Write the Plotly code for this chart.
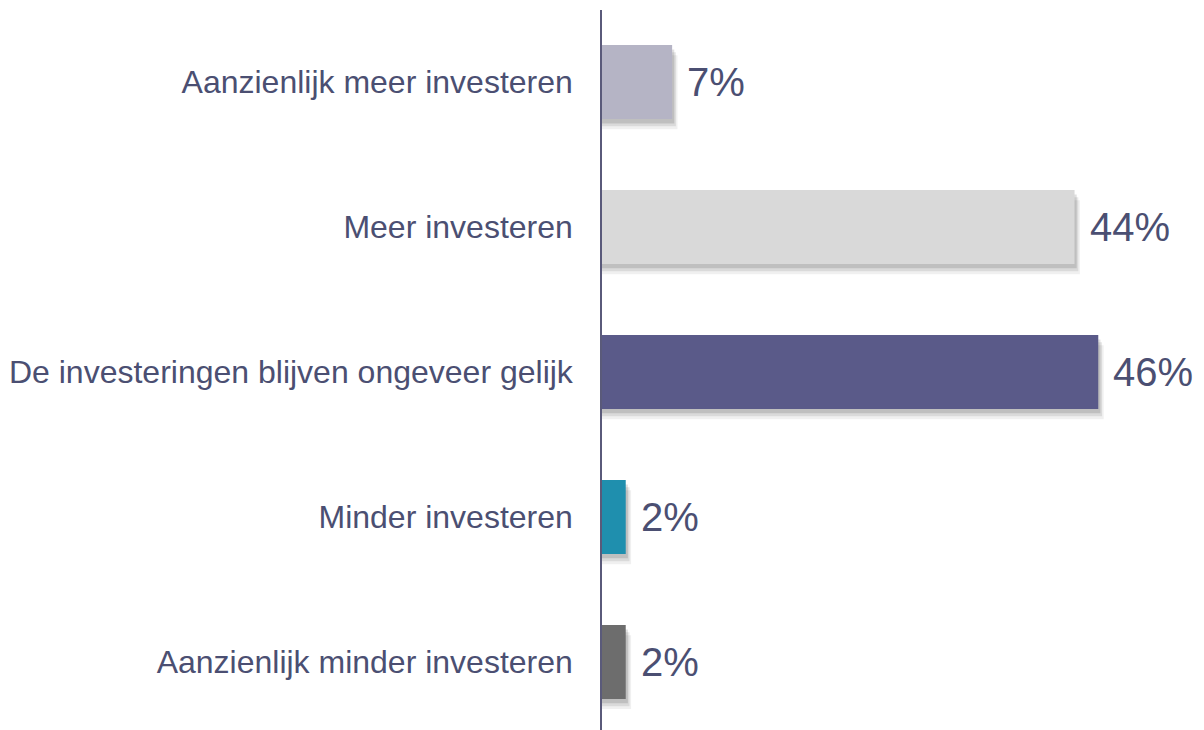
import plotly.graph_objects as go

categories = [
    "Aanzienlijk meer investeren",
    "Meer investeren",
    "De investeringen blijven ongeveer gelijk",
    "Minder investeren",
    "Aanzienlijk minder investeren",
]
values = [6.5, 43.8, 46.0, 2.2, 2.2]
value_labels = ["7%", "44%", "46%", "2%", "2%"]
bar_colors = ["#B5B4C5", "#D9D9D9", "#5A5A89", "#1F8FAE", "#6D6D6D"]

text_color = "#4B4F72"
positions = list(range(len(categories)))

fig = go.Figure()

# soft drop shadow layers
for dx, dy, op in [(0.2, 0.03, 0.12), (0.35, 0.05, 0.09), (0.5, 0.07, 0.06)]:
    fig.add_trace(go.Bar(
        x=[v + dx for v in values],
        y=[p + dy for p in positions],
        orientation="h",
        width=0.51,
        marker=dict(color=f"rgba(0,0,0,{op})", line=dict(width=0)),
        hoverinfo="skip",
        showlegend=False,
    ))

fig.add_trace(go.Bar(
    x=values,
    y=positions,
    orientation="h",
    width=0.51,
    marker=dict(color=bar_colors, line=dict(width=0)),
    showlegend=False,
))

for v, p, t in zip(values, positions, value_labels):
    fig.add_annotation(
        x=v, y=p, text=t, showarrow=False, xanchor="left", yanchor="middle",
        xshift=13, font=dict(family="Liberation Sans, Arial", size=40, color=text_color),
    )

fig.update_layout(
    width=1196, height=722,
    margin=dict(l=594, r=0, t=2, b=0),
    plot_bgcolor="white", paper_bgcolor="white",
    barmode="overlay",
    xaxis=dict(range=[0, 55.8], visible=False, showgrid=False, zeroline=False),
    yaxis=dict(
        range=[4.469, -0.497],
        tickvals=positions, ticktext=categories,
        showline=True, linecolor="#5A5A7A", linewidth=1.5,
        showgrid=False, zeroline=False,
        ticks="", ticklabelstandoff=21,
        tickfont=dict(family="Liberation Sans, Arial", size=32, color=text_color),
    ),
)

fig.write_html("out.html")
